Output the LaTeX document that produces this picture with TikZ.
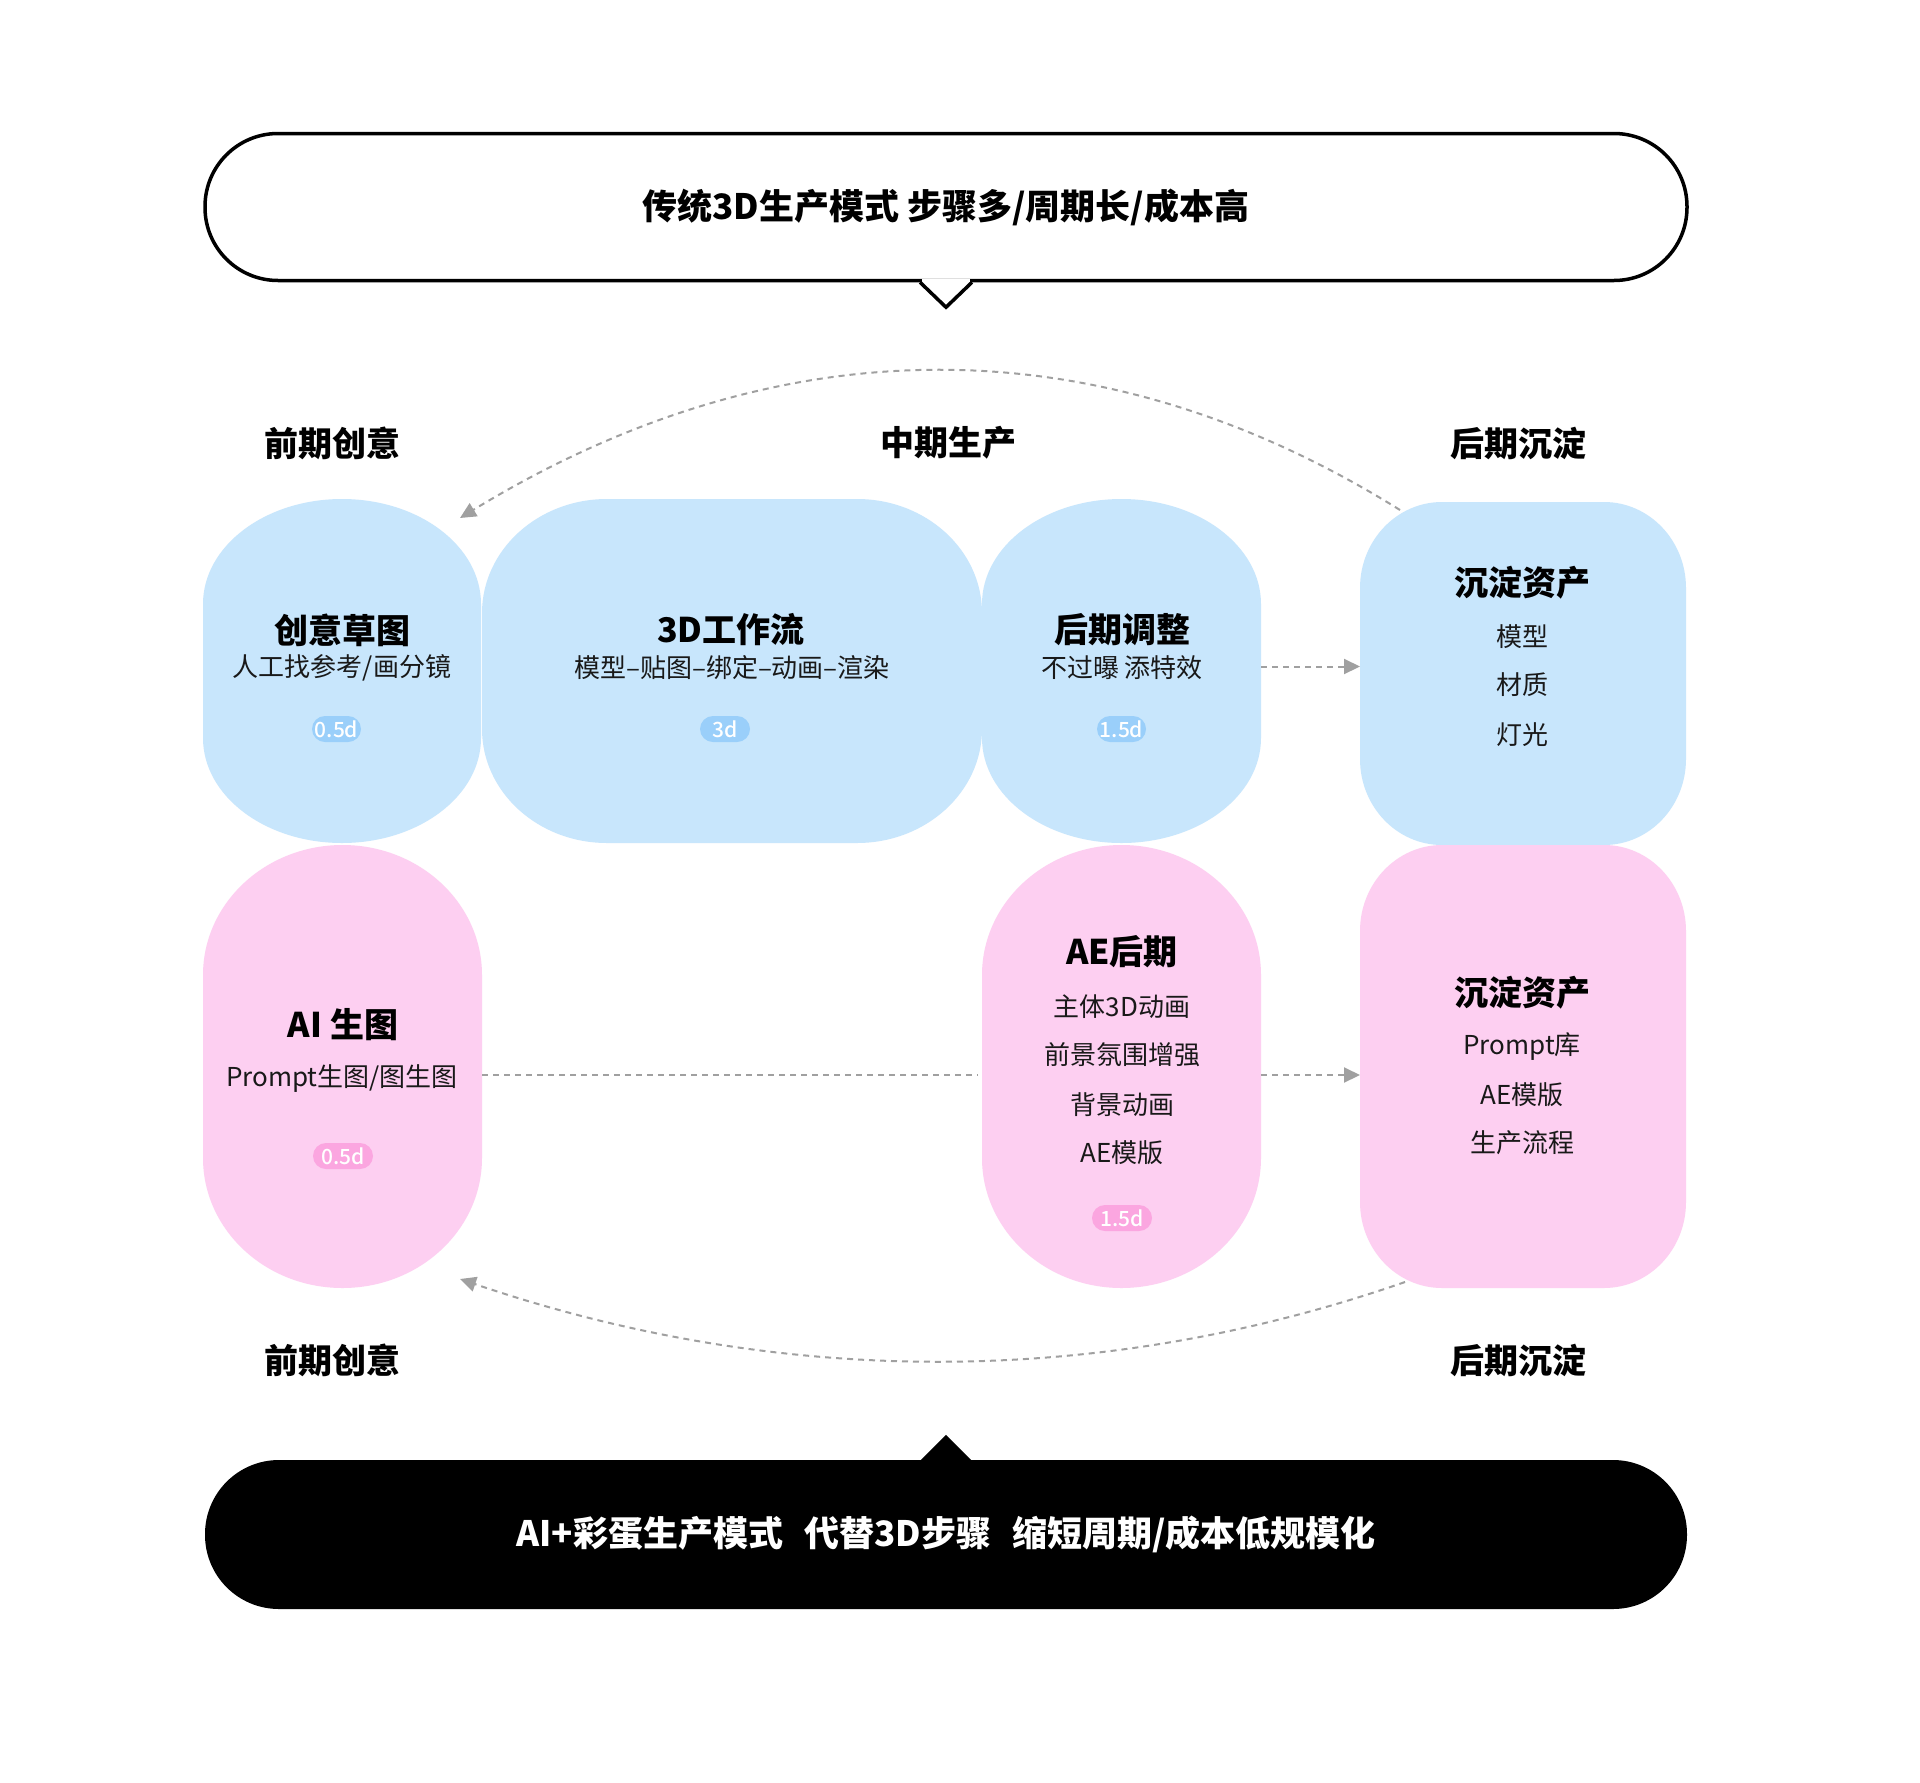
\documentclass[tikz,border=0pt]{standalone}
\usepackage{fontspec}
\setmainfont{Noto Sans CJK SC}
\newfontfamily\medf{Noto Sans CJK SC}[UprightFont={* Medium}]
\usetikzlibrary{arrows.meta,calc}
\definecolor{bfill}{HTML}{C8E6FC}
\definecolor{bbadge}{HTML}{9ACFFA}
\definecolor{pfill}{HTML}{FDCFF1}
\definecolor{pbadge}{HTML}{FBA6E0}
\definecolor{dgray}{HTML}{A0A0A0}
\newcommand\fs[1]{\fontsize{#1}{#1}\selectfont}
\newcommand\softshape[8]{%
 \pgfmathsetmacro\sL{#2-#4/2}\pgfmathsetmacro\sR{#2+#4/2}%
 \pgfmathsetmacro\sT{#3-#5/2}\pgfmathsetmacro\sB{#3+#5/2}%
 \pgfmathsetmacro\kx{0.5523*#6}\pgfmathsetmacro\ky{0.5523*#7}%
 \fill[#8] (\sL+#6,\sT) -- (\sR-#6,\sT) .. controls (\sR-#6+\kx,\sT) and (\sR,\sT+#7-\ky) .. (\sR,\sT+#7) -- (\sR,\sB-#7) .. controls (\sR,\sB-#7+\ky) and (\sR-#6+\kx,\sB) .. (\sR-#6,\sB) -- (\sL+#6,\sB) .. controls (\sL+#6-\kx,\sB) and (\sL,\sB-#7+\ky) .. (\sL,\sB-#7) -- (\sL,\sT+#7) .. controls (\sL,\sT+#7-\ky) and (\sL+#6-\kx,\sT) .. (\sL+#6,\sT) -- cycle;%
 \node[minimum width=#4pt, minimum height=#5pt, inner sep=0pt, outer sep=0pt] (#1) at (#2,#3) {};%
}
\tikzset{
 ttl/.style={inner sep=0pt, font=\fs{34}\bfseries, text=black},
 sbt/.style={inner sep=0pt, font=\fs{26}, text=black!90},
 lbl/.style={inner sep=0pt, font=\fs{34}\bfseries, text=black},
 badgeB/.style={fill=bbadge, rounded corners=13pt, minimum height=26pt, inner sep=0pt, font=\fs{21}\medf, text=white},
 badgeP/.style={fill=pbadge, rounded corners=13pt, minimum height=26pt, inner sep=0pt, font=\fs{21}\medf, text=white},
 dline/.style={draw=dgray, line width=2pt, dash pattern=on 6pt off 5pt},
 darrow/.style={dline, -{Triangle[length=16pt,width=15pt,fill=dgray]}},
}
\begin{document}
\begin{tikzpicture}[x=1pt,y=-1pt]
\useasboundingbox (0,0) rectangle (1920,1783);
\fill[white] (0,0) rectangle (1920,1783);

% top speech bubble
\node[draw=black, line width=3.5pt, fill=white, rounded corners=73pt, minimum width=1482pt, minimum height=147pt, inner sep=0pt, font=\fs{35}\bfseries] (topb) at (946,207) {传统3D生产模式 步骤多/周期长/成本高};
\fill[white] ($(topb.south)+(-24,-3)$) rectangle ($(topb.south)+(24,3)$);
\draw[line width=3.5pt, line join=miter] ($(topb.south)+(-26,0)$) -- ($(topb.south)+(0,25)$) -- ($(topb.south)+(26,0)$);

% bottom speech bubble
\node[fill=black, rounded corners=74pt, minimum width=1482pt, minimum height=149pt, inner sep=0pt, font=\fs{35}\bfseries, text=white] (botb) at (946,1534.5) {AI+彩蛋生产模式\hspace{0.6em}代替3D步骤\hspace{0.6em}缩短周期/成本低规模化};
\fill[black] ($(botb.north)+(-26,1)$) -- ($(botb.north)+(0,-25)$) -- ($(botb.north)+(26,1)$) -- cycle;

% phase labels
\node[lbl] (l1) at (332,443) {前期创意};
\node[lbl] (l2) at (948,443) {中期生产};
\node[lbl] (l3) at (1518,443) {后期沉淀};
\node[lbl] (l4) at (332,1360) {前期创意};
\node[lbl] (l5) at (1518,1360) {后期沉淀};

% shapes
\softshape{b1}{342}{671}{278}{344}{139}{105}{bfill}
\softshape{b2}{732}{671}{500}{344}{125}{114}{bfill}
\softshape{b3}{1121.5}{671}{279}{344}{139.5}{105}{bfill}
\softshape{b4}{1523}{673.5}{326}{343}{82}{86}{bfill}
\softshape{p1}{342.5}{1066.5}{279}{443}{139.5}{130}{pfill}
\softshape{p2}{1121.5}{1066.5}{279}{443}{139.5}{130}{pfill}
\softshape{p3}{1523}{1066.5}{326}{443}{82}{86}{pfill}

% connectors
\draw[darrow] ([yshift=4.5pt]b3.east) -- ([yshift=4.5pt]b3.east -| b4.west);
\draw[dline] ([yshift=-8.5pt]p1.east) -- ([yshift=-8.5pt,xshift=-4pt]p2.west);
\draw[darrow] ([yshift=-8.5pt]p2.east) -- ([yshift=-8.5pt]p2.east -| p3.west);
\coordinate (ts) at (1400,510);
\coordinate (te) at (460,518);
\coordinate (bs) at (1405,1282);
\coordinate (be) at (460,1279);
\draw[darrow] (ts) .. controls (1100,323) and (780,323) .. (te);
\draw[darrow] (bs) .. controls (1100,1388) and (780,1388) .. (be);

% blue row texts
\node[ttl] (b1t) at (342,630) {创意草图};
\node[sbt] (b1s) at (342,668) {人工找参考/画分镜};
\node[badgeB, minimum width=49pt] (b1d) at (336.5,729) {0.5d};

\node[ttl] (b2t) at (731,630) {3D工作流};
\node[sbt] (b2s) at (732,668) {模型–贴图–绑定–动画–渲染};
\node[badgeB, minimum width=50pt] (b2d) at (725,729) {3d};

\node[ttl] (b3t) at (1122,630) {后期调整};
\node[sbt] (b3s) at (1122,668) {不过曝 添特效};
\node[badgeB, minimum width=49pt] (b3d) at (1121.5,729) {1.5d};

\node[ttl] (b4t) at (1522,583) {沉淀资产};
\node[sbt] (b4a) at (1522,637) {模型};
\node[sbt] (b4b) at (1522,685) {材质};
\node[sbt] (b4c) at (1522,735) {灯光};

% pink row texts
\node[ttl] (p1t) at (343,1025) {AI 生图};
\node[sbt] (p1s) at (342,1079) {Prompt生图/图生图};
\node[badgeP, minimum width=60pt] (p1d) at (343,1156) {0.5d};

\node[ttl] (p2t) at (1122,952) {AE后期};
\node[sbt] (p2a) at (1122,1007) {主体3D动画};
\node[sbt] (p2b) at (1122,1055) {前景氛围增强};
\node[sbt] (p2c) at (1122,1105) {背景动画};
\node[sbt] (p2e) at (1122,1153) {AE模版};
\node[badgeP, minimum width=60pt] (p2d) at (1122,1218) {1.5d};

\node[ttl] (p3t) at (1522,993) {沉淀资产};
\node[sbt] (p3a) at (1522,1047) {Prompt库};
\node[sbt] (p3b) at (1522,1095) {AE模版};
\node[sbt] (p3c) at (1522,1143) {生产流程};
\end{tikzpicture}
\end{document}
